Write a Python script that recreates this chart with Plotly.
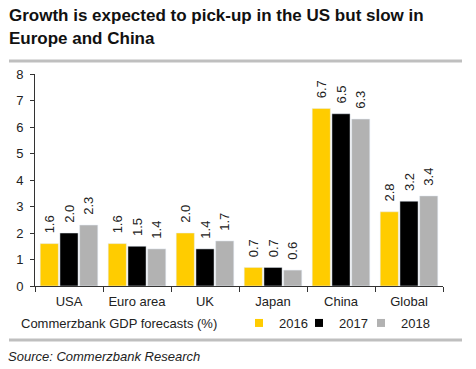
import plotly.graph_objects as go

categories = ["USA", "Euro area", "UK", "Japan", "China", "Global"]
v2016 = [1.6, 1.6, 2.0, 0.7, 6.7, 2.8]
v2017 = [2.0, 1.5, 1.4, 0.7, 6.5, 3.2]
v2018 = [2.3, 1.4, 1.7, 0.6, 6.3, 3.4]
series_names = ["2016", "2017", "2018"]
colors = ["#FFCC00", "#000000", "#B2B2B2"]
yticks = [0, 1, 2, 3, 4, 5, 6, 7, 8]

W, H = 476, 369
L, R, T, B = 35, 33, 74, 83
pw, ph = W - L - R, H - T - B

def px(x):
    return (x - L) / pw

def py(y):
    return (H - B - y) / ph

FONT = "Liberation Sans, Arial, sans-serif"
NB = "\u00a0\u00a0"

fig = go.Figure()
for name, vals, col in zip(series_names, [v2016, v2017, v2018], colors):
    fig.add_trace(go.Bar(
        x=categories, y=vals, name=name, marker_color=col, showlegend=False,
        text=[NB + f"{v:.1f}" for v in vals], textposition="outside",
        textangle=-90, textfont=dict(size=13, color="#222", family=FONT),
        constraintext="none", cliponaxis=False,
    ))
# legend entries (small square swatches), each in its own legend box
legend_ids = ["legend", "legend2", "legend3"]
legend_text_x = [280, 340, 402]
for name, col, lid in zip(series_names, colors, legend_ids):
    fig.add_trace(go.Scatter(x=[None], y=[None], mode="markers", name=name, legend=lid,
                             marker=dict(symbol="square", size=8, color=col)))

leg_common = dict(orientation="h", xanchor="left", yanchor="middle",
                  font=dict(size=13, color="#222"), itemwidth=30,
                  bgcolor="rgba(0,0,0,0)")
legend_layout = {}
for lid, tx in zip(legend_ids, legend_text_x):
    legend_layout[lid] = dict(x=px(tx - 41), y=py(323), **leg_common)

fig.update_layout(
    width=W, height=H,
    margin=dict(l=L, r=R, t=T, b=B),
    paper_bgcolor="white", plot_bgcolor="white",
    barmode="group", bargap=0.13, bargroupgap=0.08,
    font=dict(family=FONT, size=13, color="#222"),
    showlegend=True,
    xaxis=dict(showline=True, linecolor="#333", linewidth=1, ticks="outside",
               tickson="boundaries", ticklen=5, tickcolor="#333", tickangle=0,
               ticklabelstandoff=3,
               tickfont=dict(size=13, color="#222"), showgrid=False),
    yaxis=dict(range=[0, 8], tickvals=yticks, showline=True, linecolor="#333",
               linewidth=1, ticks="outside", ticklen=4, tickcolor="#333",
               ticklabelstandoff=4,
               tickfont=dict(size=13, color="#222"), showgrid=False, zeroline=False),
    **legend_layout,
)

# title
fig.add_annotation(xref="paper", yref="paper", x=px(7), y=py(4), xanchor="left", yanchor="top",
                   text="<b>Growth is expected to pick-up in the US but slow in</b>",
                   showarrow=False, font=dict(size=17, color="#111", family=FONT))
fig.add_annotation(xref="paper", yref="paper", x=px(7), y=py(27), xanchor="left", yanchor="top",
                   text="<b>Europe and China</b>",
                   showarrow=False, font=dict(size=17, color="#111", family=FONT))
# subtitle
fig.add_annotation(xref="paper", yref="paper", x=px(19), y=py(323), xanchor="left", yanchor="middle",
                   text="Commerzbank GDP forecasts (%)", showarrow=False,
                   font=dict(size=13, color="#222", family=FONT))
# source
fig.add_annotation(xref="paper", yref="paper", x=px(6), y=py(356), xanchor="left", yanchor="middle",
                   text="<i>Source: Commerzbank Research</i>", showarrow=False,
                   font=dict(size=13, color="#222", family=FONT))
# rules
for yy in (61, 340):
    fig.add_shape(type="line", xref="paper", yref="paper", x0=px(9), x1=px(462),
                  y0=py(yy), y1=py(yy), line=dict(color="#BFBFBF", width=3))

fig.write_html("out.html", config={"displayModeBar": False},
               post_script="document.body.style.margin='0';")
